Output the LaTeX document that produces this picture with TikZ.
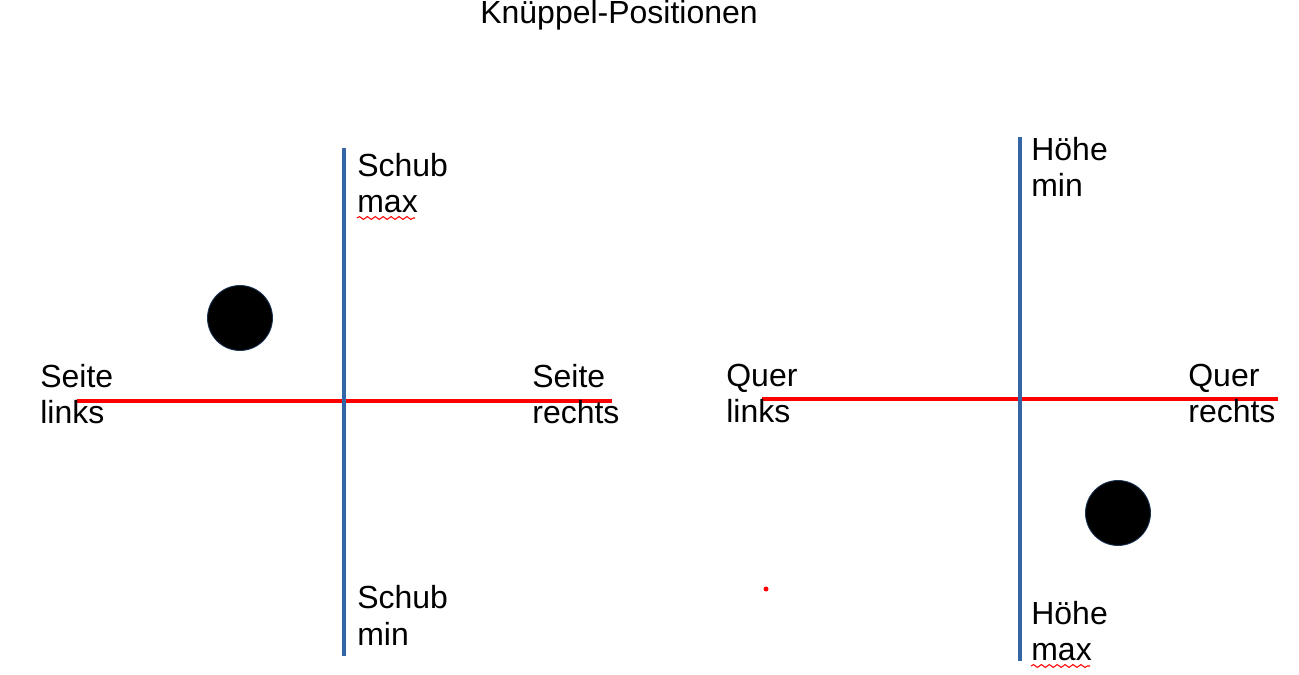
\documentclass[tikz,border=0pt]{standalone}
\usepackage{fontspec}
\setmainfont{Liberation Sans}
\usetikzlibrary{decorations.pathmorphing}

\definecolor{stickblue}{HTML}{3465A4}
\definecolor{stickred}{HTML}{FF0000}

\begin{document}
\begin{tikzpicture}[
  x=0.02cm, y=-0.02cm,
  label/.style={anchor=base west, align=left, inner sep=0pt,
                font=\fontsize{18.2}{20.6}\selectfont},
  vaxis/.style={draw=stickblue, line width=2.7pt},
  haxis/.style={draw=stickred, line width=2.2pt},
  knob/.style={circle, fill=black, draw=stickblue!50!black, line width=0.5pt,
               minimum size=1.3cm, inner sep=0pt},
  spell/.style={draw=stickred, line width=0.6pt,
                decorate, decoration={snake, amplitude=0.8pt, segment length=4.5pt}}
]
\useasboundingbox (0,0) rectangle (1299,675);

\node[label] (title) at (480,24) {Knüppel-Positionen};

% left stick
\coordinate (lTop) at (344,148);
\coordinate (lBot) at (344,656);
\coordinate (lLeft) at (77,401);
\coordinate (lRight) at (612,401);
\draw[haxis] (lLeft) -- (lRight);
\draw[vaxis] (lTop) -- (lBot);
\node[knob] (lKnob) at (240,318) {};

\node[label] (schubMax) at (357,213) {Schub\\max};
\node[label] (schubMin) at (357,645) {Schub\\min};
\node[label] (seiteL) at (40,424) {Seite\\links};
\node[label] (seiteR) at (532,424) {Seite\\rechts};

% right stick
\coordinate (rTop) at (1020,137);
\coordinate (rBot) at (1020,661);
\coordinate (rLeft) at (762,399);
\coordinate (rRight) at (1278,399);
\draw[haxis] (rLeft) -- (rRight);
\draw[vaxis] (rTop) -- (rBot);
\node[knob] (rKnob) at (1118,513) {};

\node[label] (hoeheMin) at (1031,197) {Höhe\\min};
\node[label] (hoeheMax) at (1031,661) {Höhe\\max};
\node[label] (querL) at (726,423) {Quer\\links};
\node[label] (querR) at (1188,423) {Quer\\rechts};

% stray dot and spell-check marks
\fill[stickred] (766,589) circle (2.5);
\coordinate (sA) at (357,218);
\coordinate (sB) at (415,218);
\coordinate (sC) at (1031,666);
\coordinate (sD) at (1090,666);
\draw[spell] (sA) -- (sB);
\draw[spell] (sC) -- (sD);

\end{tikzpicture}
\end{document}
